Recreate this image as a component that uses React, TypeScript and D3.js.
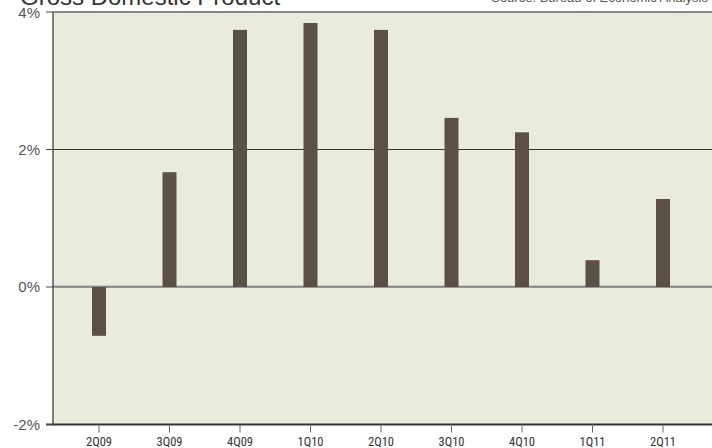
import React from "react";
import * as d3 from "d3";

const quarters = ["2Q09", "3Q09", "4Q09", "1Q10", "2Q10", "3Q10", "4Q10", "1Q11", "2Q11"];
const gdpGrowth = [-0.71, 1.67, 3.74, 3.84, 3.74, 2.46, 2.25, 0.39, 1.28];
const yTicks = [-2, 0, 2, 4];
const title = "Gross Domestic Product";
const source = "Source: Bureau of Economic Analysis";

const W = 712;
const H = 448;
const left = 53;
const right = 712;
const top = 12;
const bottom = 424.5;

export default function App() {
  const x = d3.scalePoint<string>().domain(quarters).range([99, 663]);
  const y = d3.scaleLinear().domain([-2, 4]).range([bottom, top]);
  const barW = 14;
  const labelColor = "#555";
  return (
    <svg width={W} height={H} style={{ position: "absolute", left: 0, top: 0 }}
      fontFamily="'Liberation Sans', Arial, sans-serif">
      <rect x={left} y={top} width={right - left} height={bottom - top} fill="#E9EBDC" />
      {/* gridlines */}
      <line x1={left} x2={right} y1={y(2)} y2={y(2)} stroke="#333" strokeWidth={1} />
      <line x1={left} x2={right} y1={y(0) - 1} y2={y(0) - 1} stroke="#aaa" strokeWidth={1} />
      <line x1={left} x2={right} y1={y(0)} y2={y(0)} stroke="#444" strokeWidth={1} />
      <line x1={left} x2={right} y1={y(4)} y2={y(4)} stroke="#888" strokeWidth={2} />
      {/* bars */}
      {gdpGrowth.map((v, i) => (
        <rect key={quarters[i]} x={(x(quarters[i]) as number) - barW / 2}
          y={y(Math.max(0, v))} width={barW}
          height={Math.abs(y(v) - y(0))} fill="#5C4F48" />
      ))}
      {/* axes */}
      <line x1={left} x2={left} y1={top} y2={bottom} stroke="#555" strokeWidth={1.5} />
      <line x1={left - 7} x2={right} y1={bottom} y2={bottom} stroke="#333" strokeWidth={2} />
      {yTicks.map((t) => (
        <g key={t}>
          <line x1={left - 7} x2={left} y1={y(t)} y2={y(t)} stroke="#444" strokeWidth={1} />
          <text x={40} y={y(t) + (t === 4 ? 1 : 0)} dy="0.36em" textAnchor="end" fontSize={15} fill={labelColor}>
            {`${t}%`}
          </text>
        </g>
      ))}
      {quarters.map((q) => (
        <g key={q}>
          <line x1={x(q)} x2={x(q)} y1={bottom} y2={bottom + 8} stroke="#666" strokeWidth={1} />
          <text x={x(q)} y={445.5} textAnchor="middle" fontSize={12.5}
            fontFamily="'Liberation Sans Narrow', 'Roboto Condensed', Arial, sans-serif"
            fill="#333">{q}</text>
        </g>
      ))}
      <text x={20} y={5} fontSize={24} fill="#333">{title}</text>
      <text x={708} y={2} fontSize={13} textAnchor="end" fill="#555">{source}</text>
    </svg>
  );
}
